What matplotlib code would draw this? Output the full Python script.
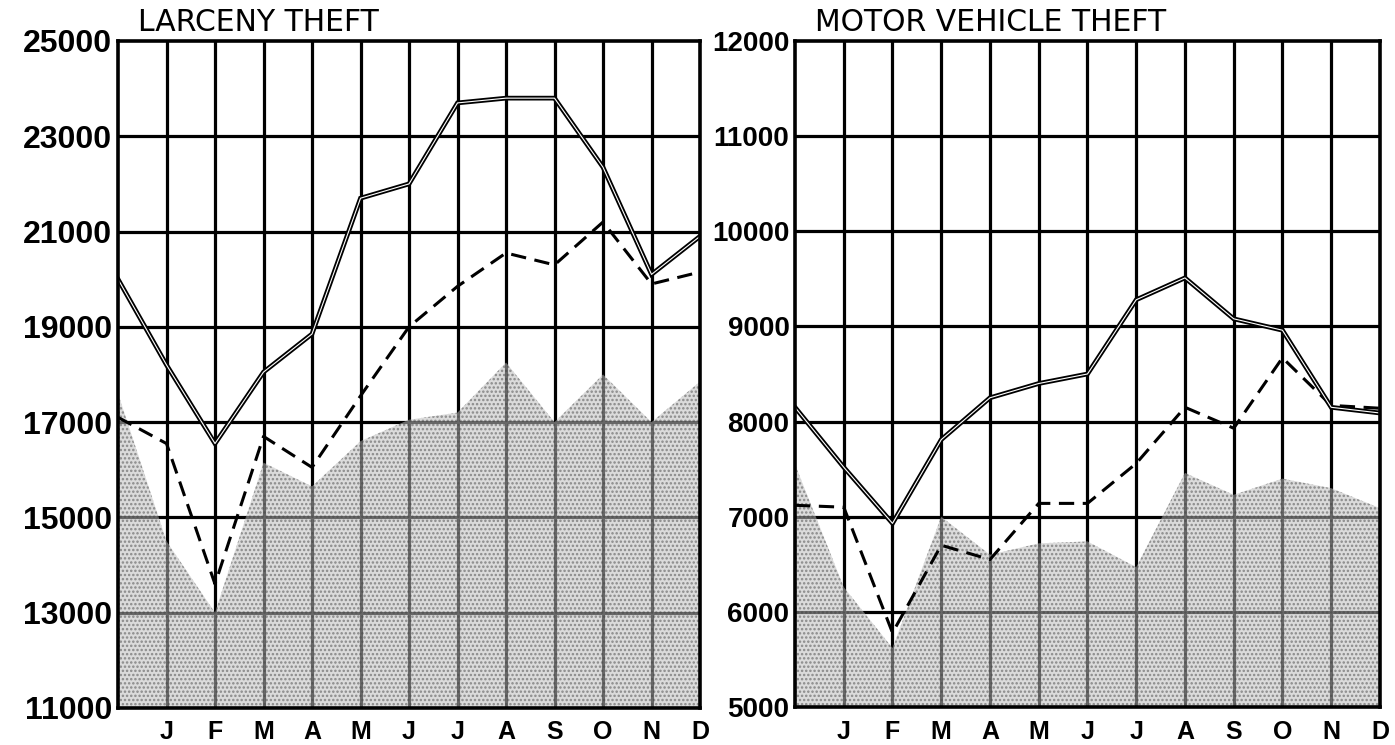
import matplotlib.pyplot as plt

months = ['', 'J', 'F', 'M', 'A', 'M', 'J', 'J', 'A', 'S', 'O', 'N', 'D']
x = list(range(13))

# larceny theft
larceny_solid = [20000, 18200, 16550, 18050, 18850, 21700, 22000, 23700, 23800, 23800, 22350, 20100, 20900]
larceny_dashed = [17100, 16550, 13600, 16700, 16050, 17550, 19000, 19850, 20550, 20300, 21200, 19900, 20150]
larceny_shade = [17600, 14500, 13000, 16150, 15650, 16600, 17050, 17200, 18250, 17000, 18000, 17000, 17850]
larceny_ticks = [11000, 13000, 15000, 17000, 19000, 21000, 23000, 25000]

# motor vehicle theft
motor_solid = [8150, 7520, 6930, 7810, 8250, 8400, 8500, 9280, 9510, 9080, 8960, 8150, 8090]
motor_dashed = [7120, 7100, 5780, 6700, 6550, 7140, 7140, 7560, 8150, 7930, 8670, 8170, 8140]
motor_shade = [7550, 6260, 5620, 7000, 6600, 6720, 6740, 6470, 7460, 7230, 7400, 7300, 7090]
motor_ticks = [5000, 6000, 7000, 8000, 9000, 10000, 11000, 12000]

plt.rcParams['font.family'] = ['DejaVu Sans']
plt.rcParams['hatch.linewidth'] = 1.2

fig = plt.figure(figsize=(13.95, 7.45), dpi=100)
ax1 = fig.add_axes([0.0846, 0.0497, 0.4172, 0.8953])
ax2 = fig.add_axes([0.5699, 0.0510, 0.4193, 0.8940])


def draw_panel(ax, title, solid, dashed, shade, yticks, ysize):
    ax.set_xlim(0, 12)
    ax.set_ylim(yticks[0], yticks[-1])

    # heavy grid
    for xv in x[1:12]:
        ax.axvline(xv, color='black', lw=2.3, zorder=1)
    for yv in yticks[1:-1]:
        ax.axhline(yv, color='black', lw=2.3, zorder=1)

    ax.fill_between(x, yticks[0], shade, facecolor=(0.75, 0.75, 0.75, 0.55),
                    hatch='....', edgecolor=(0.25, 0.25, 0.25, 0.5), lw=0, zorder=2)

    ax.plot(x, dashed, color='black', lw=2.2, dashes=(5, 2.8), zorder=3)
    ax.plot(x, solid, color='black', lw=3.4, zorder=4, solid_joinstyle='miter')
    ax.plot(x, solid, color='white', lw=0.8, zorder=5)

    for s in ax.spines.values():
        s.set_linewidth(2.6)
        s.set_zorder(6)

    ax.set_xticks(x)
    ax.set_xticklabels(months, fontsize=18, fontweight='bold', family='Liberation Sans')
    ax.set_yticks(yticks)
    ax.set_yticklabels([str(v) for v in yticks], fontsize=ysize, fontweight='bold',
                       family='Liberation Sans')
    ax.tick_params(length=0, pad=4)
    ax.tick_params(axis='x', pad=9)

    ax.text(0.034, 1.006, title, transform=ax.transAxes, fontsize=21.5,
            ha='left', va='bottom')


draw_panel(ax1, 'LARCENY THEFT', larceny_solid, larceny_dashed, larceny_shade, larceny_ticks, 23)
draw_panel(ax2, 'MOTOR VEHICLE THEFT', motor_solid, motor_dashed, motor_shade, motor_ticks, 20)

fig.savefig('out.png', dpi=100)
